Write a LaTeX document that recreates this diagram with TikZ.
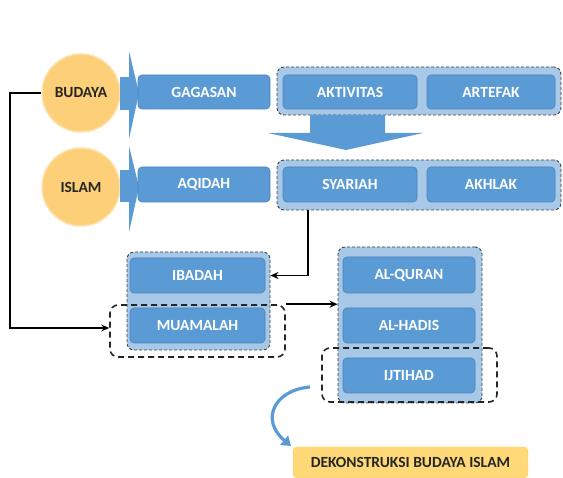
\documentclass[tikz,border=0pt]{standalone}
\usepackage{fontspec}
\setmainfont{Carlito}
\usetikzlibrary{arrows.meta}
\definecolor{boxblue}{HTML}{5B9BD5}
\definecolor{boxedge}{HTML}{4A80B8}
\definecolor{lightblue}{HTML}{A8C8E8}
\definecolor{gold}{HTML}{FDCF78}
\definecolor{paleyellow}{HTML}{FFD978}
\definecolor{darktext}{HTML}{262626}
\tikzset{
  x=1pt, y=-1pt,
  bbox/.style={draw=boxedge, line width=0.6pt, fill=boxblue, rounded corners=4pt, text=white,
    font=\bfseries\fontsize{15.5}{15.5}\selectfont, inner sep=0pt, minimum height=35pt},
  grp/.style={draw=black!75, densely dashed, line width=0.9pt, fill=lightblue, rounded corners=7pt, inner sep=0pt},
  blk/.style={draw=black!85, dash pattern=on 6pt off 4pt, line width=1.6pt, rounded corners=8pt, inner sep=0pt},
  circ/.style={circle, fill=gold, draw=gold!60!white, line width=1.5pt, minimum size=78pt, inner sep=0pt,
    text=darktext, font=\bfseries\fontsize{15.5}{15.5}\selectfont},
  chev/.style={fill=boxblue, draw=none},
  conn/.style={draw=black, line width=1.6pt, -{Stealth[length=8pt,width=7pt]}},
}
\begin{document}
\begin{tikzpicture}
\useasboundingbox (0,0) rectangle (563,478);

% containers
\node[grp, minimum width=284pt, minimum height=48pt] (g1) at (419,91) {};
\node[grp, minimum width=284pt, minimum height=50pt] (g2) at (419,185) {};
\node[grp, minimum width=143pt, minimum height=98pt] (g3) at (198.5,301) {};
\node[grp, minimum width=144pt, minimum height=156pt] (g4) at (410,325) {};

% circles
\node[circ] (budaya) at (81,93) {BUDAYA};
\node[circ] (islam) at (81,187) {ISLAM};

% chevron arrows
\fill[chev] (120,77) rectangle (129,110);
\fill[chev] (129,51) -- (139,93) -- (129,139) -- cycle;
\fill[chev] (120,170) rectangle (129,202);
\fill[chev] (129,146) -- (139,187) -- (129,232) -- cycle;

% boxes
\node[bbox, minimum width=132pt, minimum height=34pt] (gagasan) at (204,92) {GAGASAN};
\node[bbox, minimum width=134pt, minimum height=34pt] (aktivitas) at (350,92) {AKTIVITAS};
\node[bbox, minimum width=128pt, minimum height=34pt] (artefak) at (491,92) {ARTEFAK};
\node[bbox, minimum width=132pt] (aqidah) at (204,184.5) {AQIDAH};
\node[bbox, minimum width=134pt] (syariah) at (350,184.5) {SYARIAH};
\node[bbox, minimum width=128pt] (akhlak) at (491,184.5) {AKHLAK};
\node[bbox, minimum width=135pt] (ibadah) at (197.5,275.5) {IBADAH};
\node[bbox, minimum width=135pt] (muamalah) at (197.5,325.5) {MUAMALAH};
\node[bbox, minimum width=132pt, minimum height=36pt] (alquran) at (409,275) {AL-QURAN};
\node[bbox, minimum width=132pt] (alhadis) at (409,325.5) {AL-HADIS};
\node[bbox, minimum width=132pt] (ijtihad) at (409,375.5) {IJTIHAD};

% big down arrow
\fill[boxblue] (310,115) -- (385,115) -- (385,133) -- (423,133) -- (346,150) -- (268,133) -- (310,133) -- cycle;

% black dashed groups
\node[blk, minimum width=175pt, minimum height=52pt] (mdash) at (197.5,331) {};
\node[blk, minimum width=175pt, minimum height=54pt] (idash) at (409.5,375) {};

% result box
\node[fill=paleyellow, draw=paleyellow!80!orange, rounded corners=4pt, minimum width=235pt, minimum height=31pt,
  inner sep=0pt, text=darktext, font=\bfseries\fontsize{15.5}{15.5}\selectfont] (dekon) at (410.5,462.5) {DEKONSTRUKSI BUDAYA ISLAM};

% connectors
\draw[conn] (g2.south -| 308,0) |- (g3.east |- ibadah.center);
\draw[conn] (budaya.west) -- ++(-31,0) |- (mdash.west |- 0,328);
\draw[conn] (mdash.north east) -- (g4.west |- mdash.north east);

% curved arrow
\coordinate (cs) at (310,387);
\coordinate (ce) at (291,446);
\draw[boxblue, line width=3.2pt, -{Triangle[length=9pt,width=12pt]}] (cs) .. controls (274,390) and (260,420) .. (ce);
\end{tikzpicture}
\end{document}
